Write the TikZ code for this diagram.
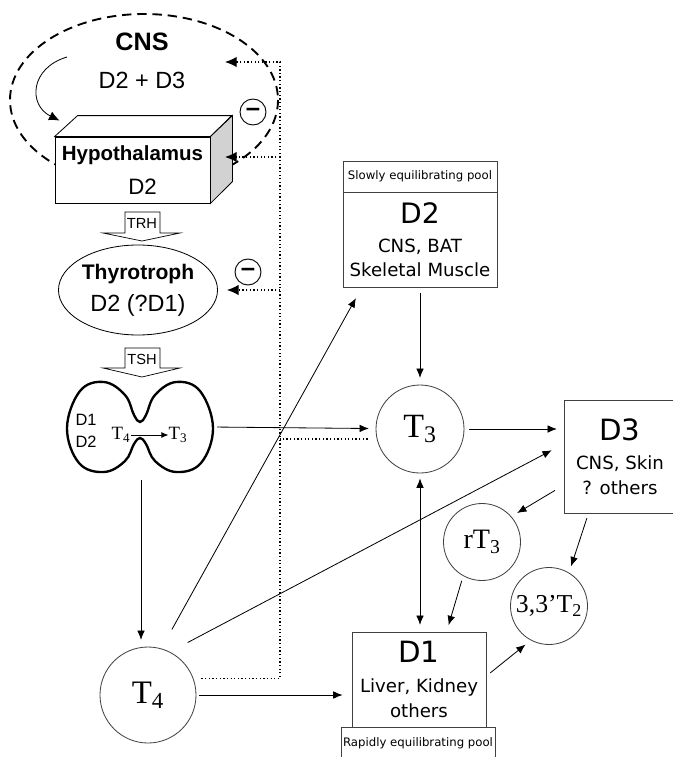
\documentclass[tikz,border=0pt]{standalone}
\usepackage{fontspec}
\setmainfont{Liberation Sans}
\newfontfamily\poolfont{DejaVu Sans}
\newfontfamily\hormfont{Liberation Serif}
\usepackage{tikz}
\usetikzlibrary{arrows.meta,shapes.geometric}

\begin{document}
\begin{tikzpicture}[x=0.03cm, y=-0.03cm,
    every node/.style={inner sep=0pt},
    >={Latex[length=8pt,width=6.5pt]},
    flow/.style={->, line width=0.7pt, shorten >=0.2cm, shorten <=0.15cm},
    fbline/.style={dotted, line width=1.1pt},
    fbarrow/.style={fbline, -{Latex[length=10pt,width=9pt]}},
    enzyme/.style={draw=black!75, line width=0.7pt, align=center, font=\poolfont\fontsize{15.5}{21}\selectfont},
    poolhead/.style={draw=black!75, line width=0.7pt, minimum width=4.62cm, font=\poolfont\fontsize{10}{12}\selectfont},
    hormone/.style={circle, draw=black!75, line width=0.7pt, font=\hormfont\fontsize{24}{26}\selectfont},
    minus/.style={circle, draw, line width=0.8pt, minimum size=0.78cm, font=\bfseries\fontsize{22}{22}\selectfont},
    release/.style={draw, line width=0.6pt, fill=white}]

    \useasboundingbox (0,0) rectangle (673,757);

    % CNS
    \draw[dash pattern=on 8pt off 5pt, line width=1.6pt] (144,100) ellipse [x radius=134, y radius=86];
    \node[font=\bfseries\fontsize{21.5}{24}\selectfont] (cns) at (142,42) {CNS};
    \node[font=\fontsize{20}{22}\selectfont] (cnsdio) at (142,80) {D2 + D3};

    % Hypothalamus
    \node[draw, line width=0.7pt, fill=white, minimum width=4.65cm, minimum height=1.98cm, align=center,
          font=\fontsize{19}{29}\selectfont] (hypo) at (132.5,170)
          {{\bfseries\fontsize{17.5}{20}\selectfont Hypothalamus}\\\hspace*{0.6cm}D2};
    \draw[line width=0.7pt, fill=white] (hypo.north west) -- ++(23,-21) -- ++(154,0) -- (hypo.north east) -- cycle;
    \draw[line width=0.7pt, fill=gray!35] (hypo.north east) -- ++(22,-21) -- ++(0,66) -- (hypo.south east) -- cycle;

    \coordinate (cnsloop) at (67,57);
    \draw[-{Latex[length=9pt,width=8pt]}, line width=0.7pt] (cnsloop) .. controls (30,68) and (28,105) .. ([shift={(5,-16)}]hypo.north west);

    % TRH
    \draw[release] (125,212) -- (160,212) -- (160,233) -- (180,233) -- (142,241) -- (103,233) -- (125,233) -- cycle;
    \node[font=\fontsize{12.5}{14}\selectfont] (trh) at (142,223) {TRH};

    % Thyrotroph
    \node[ellipse, draw, line width=0.7pt, minimum width=4.62cm, minimum height=2.7cm, align=center,
          font=\fontsize{20}{27}\selectfont] (thyr) at (138,290)
          {{\bfseries\fontsize{18}{20}\selectfont Thyrotroph}\\D2 (?D1)};

    % TSH
    \draw[release] (125,348) -- (160,348) -- (160,368) -- (180,368) -- (142,377) -- (103,368) -- (125,368) -- cycle;
    \node[font=\fontsize{12.5}{14}\selectfont] (tsh) at (142,359) {TSH};

    % Thyroid
    \draw[line width=2pt] plot[smooth cycle, tension=0.65] coordinates {
        (140,422) (134,415) (125,395) (104,382) (80,391) (67,428) (79,463) (104,472) (125,461) (134,444)
        (140,438) (146,444) (155,461) (176,472) (201,463) (213,428) (200,391) (176,382) (155,395) (146,415)};
    \node[minimum width=4.26cm, minimum height=2.88cm] (gland) at (141,427) {};
    \node[font=\fontsize{14}{19}\selectfont, align=left] (glanddio) at (86,431) {D1\\D2};
    \node[font=\hormfont\fontsize{16}{18}\selectfont] (glandtfour) at (121,435) {T\textsubscript{4}};
    \node[font=\hormfont\fontsize{16}{18}\selectfont] (glandtthree) at (178,435) {T\textsubscript{3}};
    \draw[-{Latex[length=6pt,width=5pt]}, line width=0.7pt] (glandtfour) -- (glandtthree);

    % Hormones
    \node[hormone, minimum size=2.88cm, font=\hormfont\fontsize{28}{30}\selectfont] (tfour) at (148,695) {T\textsubscript{4}};
    \node[hormone, minimum size=2.64cm, font=\hormfont\fontsize{29}{31}\selectfont] (tthree) at (420,429) {T\textsubscript{3}};
    \node[hormone, minimum size=2.31cm, font=\hormfont\fontsize{24}{26}\selectfont] (rtthree) at (482,542) {rT\textsubscript{3}};
    \node[hormone, minimum size=2.31cm, font=\hormfont\fontsize{22}{24}\selectfont] (ttwo) at (549,606) {3,3’T\textsubscript{2}};

    % Deiodinases
    \node[poolhead, minimum height=0.93cm] (slowpool) at (420,176.5) {Slowly equilibrating pool};
    \node[enzyme, minimum width=4.62cm, minimum height=2.85cm] (dtwo) at (420,240)
          {{\fontsize{24}{25}\selectfont D2}\\[3pt]CNS, BAT\\Skeletal Muscle};
    \node[enzyme, minimum width=3.36cm, minimum height=3.39cm] (dthree) at (620,456.5)
          {{\fontsize{25}{26}\selectfont D3}\\[4.5pt]CNS, Skin\\? others};
    \node[enzyme, minimum width=4.02cm, minimum height=2.85cm] (done) at (419,679.5)
          {{\fontsize{25}{26}\selectfont D1}\\[4.5pt]Liver, Kidney\\others};
    \node[poolhead, minimum height=0.99cm] (rapidpool) at (418,743.5) {Rapidly equilibrating pool};

    % Feedback
    \coordinate (fbtop) at (280,62);
    \coordinate (cnsin) at (225,62);
    \coordinate (hypoin) at (225,157);
    \coordinate (tthreefb) at ([shift={(-8,10)}]tthree.west);
    \draw[fbarrow] ([xshift=0.24cm]tfour.20) -| (fbtop) -- (cnsin);
    \draw[fbarrow] (fbtop |- hypoin) -- (hypoin);
    \draw[fbarrow] (fbtop |- thyr.east) -- ([xshift=0.27cm]thyr.east);
    \draw[fbline] (tthreefb) -- (fbtop |- tthreefb);
    \node[minus] (minusa) at (253,112) {\raisebox{-2pt}{–}};
    \node[minus] (minusb) at (248,272) {\raisebox{-2pt}{–}};

    % Arrows
    \draw[flow] (gland.east) -- (tthree);
    \draw[flow] (gland.south) -- (gland.south |- tfour.north);
    \draw[flow, shorten <=0.65cm, shorten >=0.35cm] (tfour.74) -- ([xshift=0.57cm]dtwo.south west);
    \draw[flow, shorten <=0.6cm, shorten >=0.4cm] (tfour.63) -- ([yshift=0.375cm]dthree.west);
    \draw[flow, shorten <=0.08cm, shorten >=0.27cm] (tfour.east) -- (tfour.east -| done.west);
    \draw[flow] (dtwo) -- (tthree);
    \draw[flow] (tthree) -- (tthree -| dthree.west);
    \draw[flow, <->] (tthree) -- (tthree |- done.north);
    \draw[flow, shorten <=0.3cm] (dthree.207) -- (rtthree.41);
    \draw[flow] (dthree.241) -- (ttwo.59);
    \draw[flow] (rtthree.241) -- (done.60);
    \draw[flow] (done.3) -- (ttwo.242);

\end{tikzpicture}
\end{document}
